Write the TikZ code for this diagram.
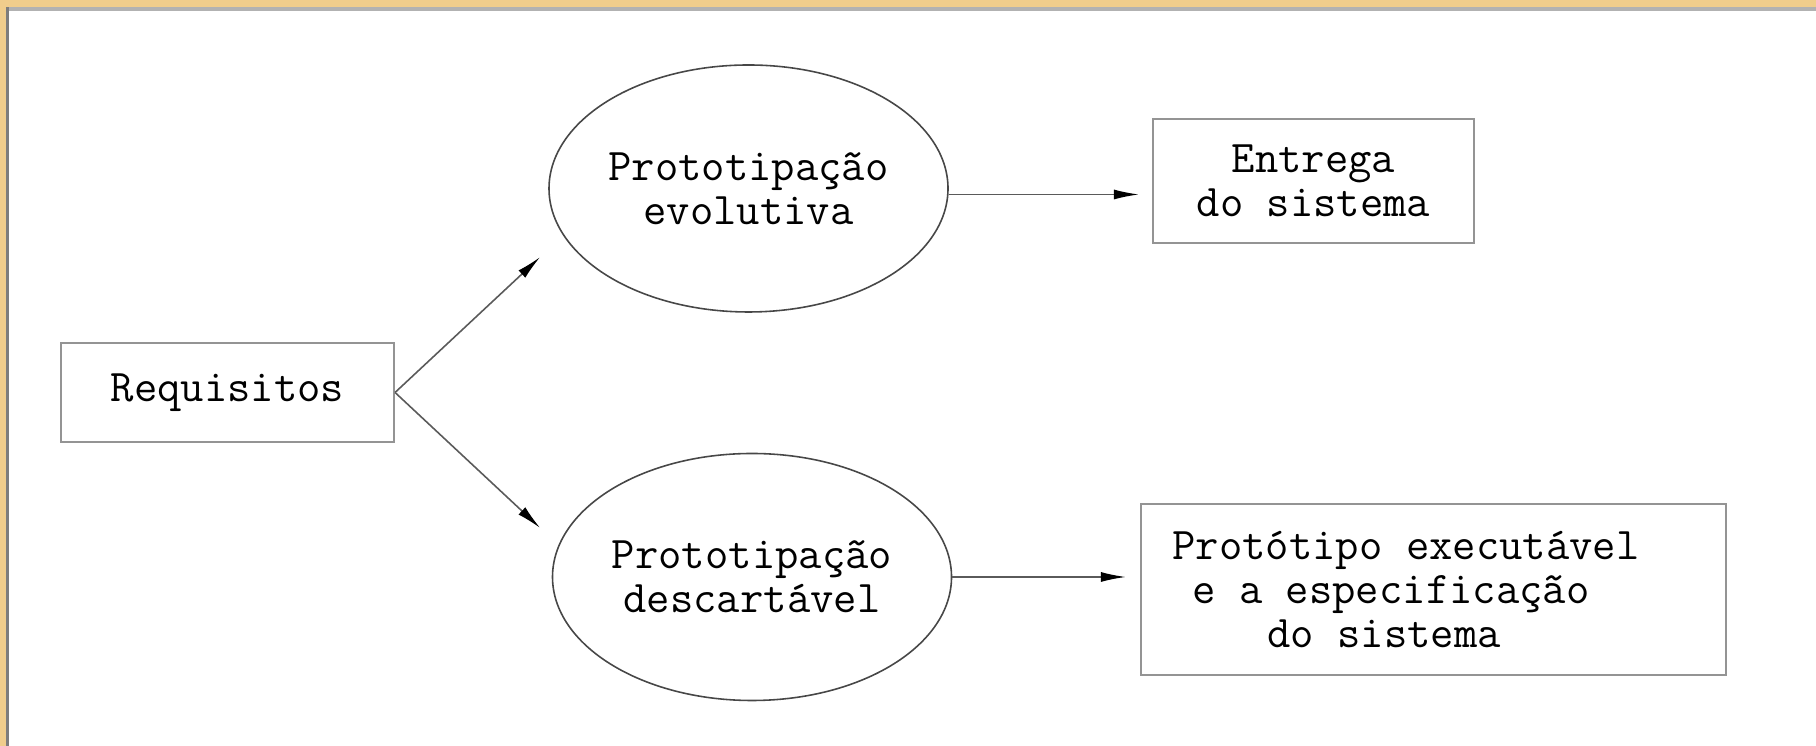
\documentclass[tikz,border=0pt]{standalone}
\usepackage{fontspec}
\usepackage{tikz}
\usetikzlibrary{
  arrows.meta,
  calc,
  positioning,
  shapes.geometric
}
\definecolor{frametan}{RGB}{240,205,140}
\definecolor{frameshade}{RGB}{125,125,125}
\definecolor{protoline}{RGB}{90,90,90}
\tikzset{
  protoBox/.style={
    rectangle,
    draw=black!42,
    line width=0.6pt,
    inner sep=0pt,
    align=center,
    font=\ttfamily\fontsize{12.9}{12.4}\selectfont
  },
  protoEllipse/.style={
    ellipse,
    draw=black!72,
    line width=0.45pt,
    inner sep=0pt,
    minimum width=3.99cm,
    minimum height=2.47cm,
    align=center,
    font=\ttfamily\fontsize{12.9}{12.4}\selectfont
  },
  protoArrow/.style={
    -{Latex[length=2.5mm,width=1mm,color=black]},
    line width=0.45pt,
    draw=protoline
  }
}

\begin{document}
\begin{tikzpicture}
  \useasboundingbox (0,0) rectangle (18.16,-7.46);
  \fill[white] (0,0) rectangle (18.16,-7.46);

  % frame of the page
  \fill[frametan] (0,0) rectangle (18.16,-0.07);
  \fill[frametan] (0,0) rectangle (0.06,-7.46);
  \fill[black!30] (0.06,-0.07) rectangle (18.16,-0.11);
  \fill[frameshade] (0.06,-0.07) rectangle (0.09,-7.46);

  \node[protoBox, minimum width=3.33cm, minimum height=0.99cm]
    (req) at (2.275,-3.925) {Requisitos};

  \node[protoEllipse] (evol) at (7.485,-1.885)
    {Prototipação\\evolutiva};

  \node[protoEllipse] (desc) at (7.52,-5.77)
    {Prototipação\\descartável};

  \node[protoBox, minimum width=3.21cm, minimum height=1.24cm]
    (entrega) at (13.135,-1.81) {Entrega\\do sistema};

  \node[protoBox, minimum width=5.85cm, minimum height=1.71cm,
        align=left]
    (prot) at (14.335,-5.895)
    {Protótipo executável\hspace*{0.55cm}\\
     \hspace*{0.2cm}e a especificação\\
     \hspace*{0.95cm}do sistema};

  \coordinate (evolin) at ($(evol.west)+(-0.08,-0.685)$);
  \coordinate (descin) at ($(desc.west)+(-0.115,0.49)$);

  \draw[protoArrow] (req.east) -- (evolin);
  \draw[protoArrow] (req.east) -- (descin);
  \draw[protoArrow, shorten >=1.3mm]
    ([yshift=-0.6mm]evol.east) -- ([yshift=-0.6mm]evol.east -| entrega.west);
  \draw[protoArrow, shorten >=1.4mm]
    (desc.east) -- (desc.east -| prot.west);
\end{tikzpicture}
\end{document}
